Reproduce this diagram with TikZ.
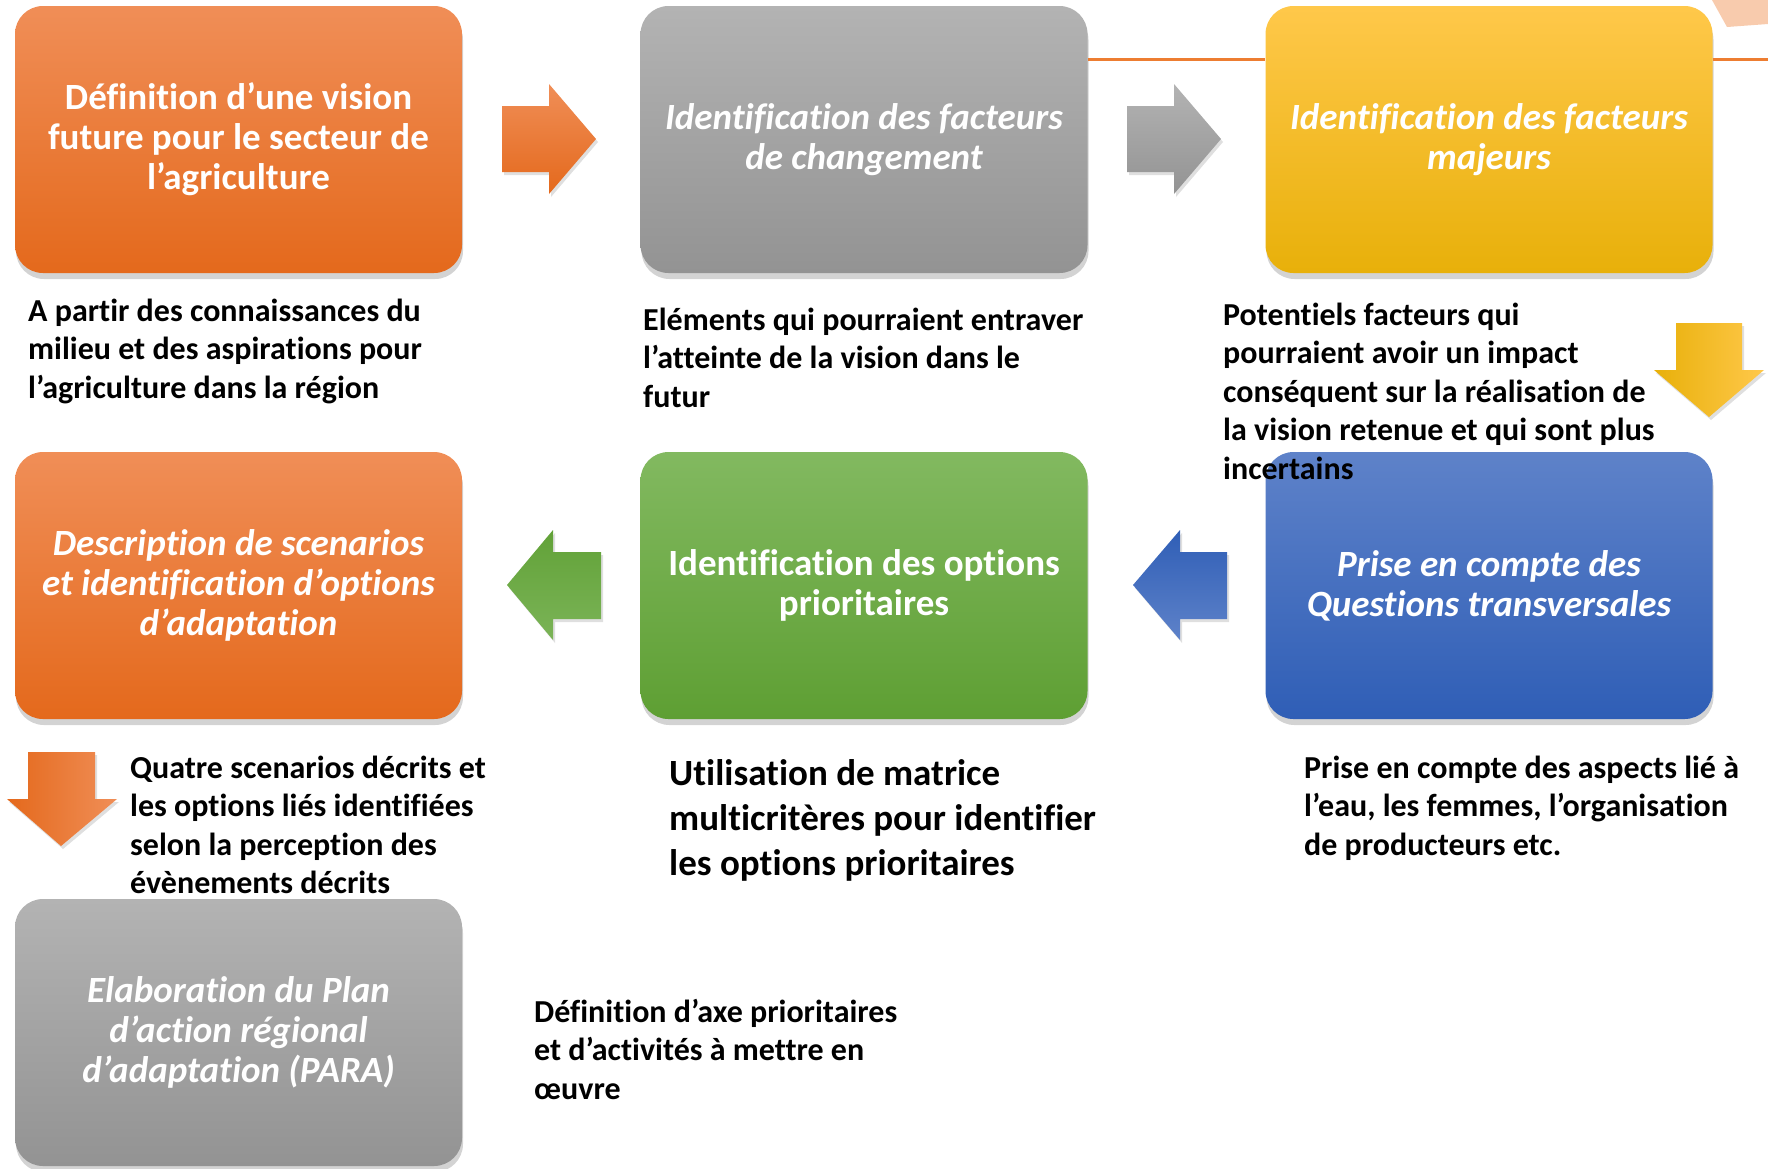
\documentclass[tikz,border=0pt]{standalone}
\usepackage{fontspec}
\setmainfont{Carlito}[Ligatures=CommonOff]
\usetikzlibrary{shadows}

\definecolor{orangeA}{HTML}{F08E57}
\definecolor{orangeB}{HTML}{E4691C}
\definecolor{grayA}{HTML}{B3B3B3}
\definecolor{grayB}{HTML}{939393}
\definecolor{yellowA}{HTML}{FFC84A}
\definecolor{yellowB}{HTML}{E8B00A}
\definecolor{greenA}{HTML}{82B960}
\definecolor{greenB}{HTML}{5E9F33}
\definecolor{blueA}{HTML}{5E82C9}
\definecolor{blueB}{HTML}{2F5EB6}
\definecolor{lineorange}{HTML}{ED7D31}
\definecolor{peach}{HTML}{F8CBAD}

\begin{document}
\begin{tikzpicture}[x=1pt, y=-1pt,
  box/.style={rounded corners=28pt, minimum width=447pt, minimum height=267pt,
    inner sep=0pt, align=center, text=white,
    font=\fontsize{37}{40}\selectfont\bfseries,
    drop shadow={shadow xshift=1pt, shadow yshift=-6pt, opacity=.35}},
  orangebox/.style={box, top color=orangeA, bottom color=orangeB},
  graybox/.style={box, top color=grayA, bottom color=grayB},
  yellowbox/.style={box, top color=yellowA, bottom color=yellowB},
  greenbox/.style={box, top color=greenA, bottom color=greenB},
  bluebox/.style={box, top color=blueA, bottom color=blueB},
  note/.style={anchor=base west, align=left, inner sep=0pt,
    font=\fontsize{32}{38.5}\selectfont\bfseries},
  blockarrow/.style={drop shadow={shadow xshift=2pt, shadow yshift=-3pt, opacity=.25}}]
  \useasboundingbox (0,0) rectangle (1768,1168);
  \fill[peach] (1712,0) -- (1727,27) -- (1768,24) -- (1768,0) -- cycle;

  % block arrows
  \path[blockarrow, top color=orangeA, bottom color=orangeB]
    (502,106) -- (549,106) -- (549,84) -- (596,139) -- (549,194) -- (549,172) -- (502,172) -- cycle;
  \path[blockarrow, top color=grayA, bottom color=grayB]
    (1127,106) -- (1174,106) -- (1174,84) -- (1221,139) -- (1174,194) -- (1174,172) -- (1127,172) -- cycle;
  \path[blockarrow, left color=yellowB, middle color=yellowA!40!yellowB, right color=yellowA]
    (1676,323) -- (1742,323) -- (1742,370) -- (1764,370) -- (1709,417) -- (1654,370) -- (1676,370) -- cycle;
  \path[blockarrow, top color=greenB!90!greenA, bottom color=greenA!80!greenB]
    (601,552) -- (553,552) -- (553,530) -- (507,585) -- (553,640) -- (553,619) -- (601,619) -- cycle;
  \path[blockarrow, top color=blueB, bottom color=blueA]
    (1227,552) -- (1180,552) -- (1180,530) -- (1133,585) -- (1180,640) -- (1180,619) -- (1227,619) -- cycle;
  \path[blockarrow, left color=orangeB, right color=orangeA]
    (28,752) -- (95,752) -- (95,799) -- (117,799) -- (61,846) -- (7,799) -- (28,799) -- cycle;

  \path node (vision)     at (238.5,139.5) [orangebox] {Définition d’une vision\\future pour le secteur de\\l’agriculture}
        node (changement) at (864,139.5)   [graybox]   {\itshape Identification des facteurs\\\itshape de changement}
        node (majeurs)    at (1489,139.5)  [yellowbox] {\itshape Identification des facteurs\\\itshape majeurs}
        node (transv)     at (1489,585.5)  [bluebox]   {\itshape Prise en compte des\\\itshape Questions transversales}
        node (options)    at (864,585.5)   [greenbox]  {Identification des options\\prioritaires}
        node (scenarios)  at (238.5,585.5) [orangebox] {\itshape Description de scenarios\\\itshape et identification d’options\\\itshape d’adaptation}
        node (para)       at (238.5,1032.5) [graybox]  {\itshape Elaboration du Plan\\\itshape d’action régional\\\itshape d’adaptation (PARA)};

  \coordinate (lineend) at (1768,59);
  \draw[lineorange, line width=3pt] (changement.east |- lineend) -- (majeurs.west |- lineend)
        (majeurs.east |- lineend) -- (lineend);

  % base west = baseline of the last line
  \path node (visionnote)     at (28,398)    [note] {A partir des connaissances du\\milieu et des aspirations pour\\l’agriculture dans la région}
        node (changementnote) at (643,407)   [note] {Eléments qui pourraient entraver\\l’atteinte de la vision dans le\\futur}
        node (majeursnote)    at (1223,479)  [note] {Potentiels facteurs qui\\pourraient avoir un impact\\conséquent sur la réalisation de\\la vision retenue et qui sont plus\\incertains}
        node (scenariosnote)  at (130,893.5) [note] {Quatre scenarios décrits et\\les options liés identifiées\\selon la perception des\\évènements décrits}
        node (optionsnote)    at (669,875)   [note, font=\fontsize{37}{45}\selectfont\bfseries] {Utilisation de matrice\\multicritères pour identifier\\les options prioritaires}
        node (transvnote)     at (1304,855)  [note] {Prise en compte des aspects lié à\\l’eau, les femmes, l’organisation\\de producteurs etc.}
        node (paranote)       at (534,1099)  [note] {Définition d’axe prioritaires\\et d’activités à mettre en\\œuvre};
\end{tikzpicture}
\end{document}
